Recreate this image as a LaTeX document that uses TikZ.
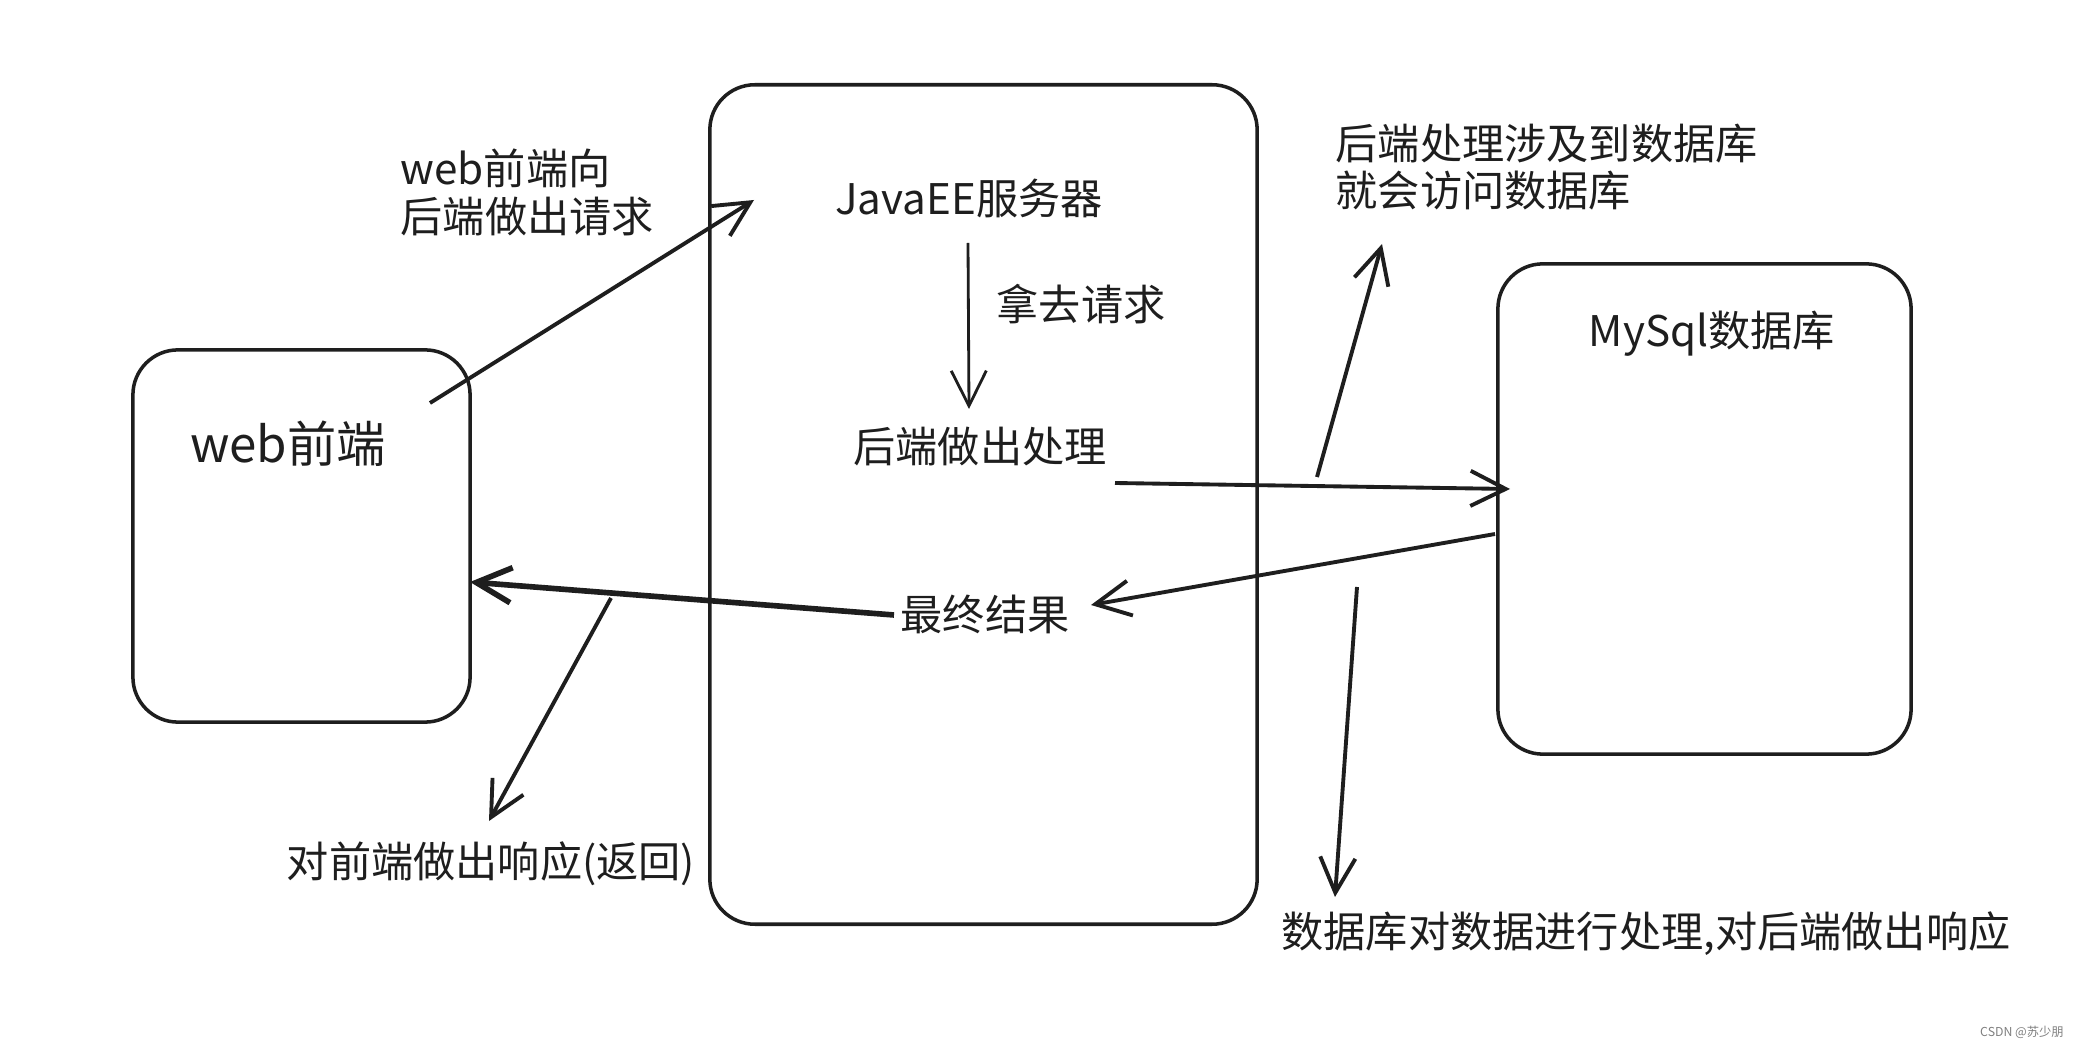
\documentclass[tikz,border=0pt]{standalone}
\usepackage{fontspec}
\setmainfont{Noto Sans CJK SC}
\usepackage{tikz}
\usepackage{xcolor}
\usetikzlibrary{arrows.meta}
\definecolor{ink}{HTML}{1E1E1E}

\begin{document}
\begin{tikzpicture}[x=0.01cm,y=-0.01cm,
        box/.style={draw=ink,line width=1pt,rounded corners=0.45cm,inner sep=0pt},
        lbl/.style={text=ink,font=\fontsize{12}{13.6}\selectfont,inner sep=0pt},
        arr/.style={draw=ink,line width=1.1pt,-{Straight Barb[length=10pt,width=10pt]}}]
        \useasboundingbox (0,0) rectangle (2093,1046);
        \fill[white] (0,0) rectangle (2093,1046);

        % the three boxes
        \foreach \n/\x/\y/\w/\h in {web/301.5/536/3.37/3.72,java/983.5/504.5/5.47/8.39,mysql/1704.5/509/4.13/4.90} {
            \node[box,minimum width=\w cm,minimum height=\h cm] (\n) at (\x,\y) {};
        }

        % texts
        \node[lbl,font=\fontsize{14}{16}\selectfont] (webtxt) at (288,444) {web前端};
        \node[lbl,anchor=west,align=left] (reqtxt) at (400,192) {web前端向\\后端做出请求};
        \node[lbl] (javatxt) at (969,198) {JavaEE服务器};
        \node[lbl] (taketxt) at (1081,304) {拿去请求};
        \node[lbl] (proctxt) at (980,447) {后端做出处理};
        \node[lbl] (resulttxt) at (985,614) {最终结果};
        \node[lbl,anchor=west,align=left] (dbnote) at (1335,167) {后端处理涉及到数据库\\就会访问数据库};
        \node[lbl] (mysqltxt) at (1712,334) {MySql数据库};
        \node[lbl] (resptxt) at (491,864) {对前端做出响应(返回)};
        \node[lbl] (dbresp) at (1646,934) {数据库对数据进行处理,对后端做出响应};
        \node[text=gray,font=\fontsize{3.5}{4}\selectfont,inner sep=0pt] (mark) at (2022,1032) {CSDN @苏少朋};

        % arrow ends
        \coordinate (a1) at (430,403);  \coordinate (a2) at (754,200);
        \coordinate (b1) at (968,243);  \coordinate (b2) at (969,409);
        \coordinate (c1) at (1115,483); \coordinate (c2) at (1510,489);
        \coordinate (d1) at (1317,477); \coordinate (d2) at (1382,244);
        \coordinate (e1) at (1495,534); \coordinate (e2) at (1091,605);
        \coordinate (f1) at (894,615);  \coordinate (f2) at (470,582);
        \coordinate (g1) at (611,598);  \coordinate (g2) at (489,821);
        \coordinate (h1) at (1357,587); \coordinate (h2) at (1335,897);

        \foreach \s/\t in {a1/a2,c1/c2,d1/d2,e1/e2,g1/g2,h1/h2} {
            \draw[arr] (\s) -- (\t);
        }
        \draw[arr,line width=0.8pt] (b1) -- (b2);
        \draw[arr,line width=1.6pt] (f1) -- (f2);
    \end{tikzpicture}
\end{document}
